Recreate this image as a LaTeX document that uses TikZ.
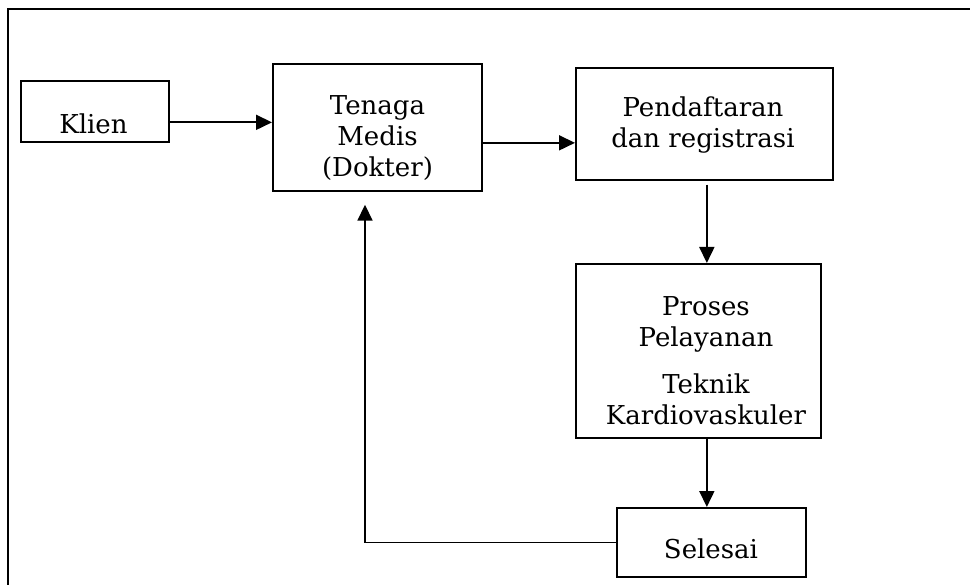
\documentclass[tikz,border=0pt]{standalone}
\usepackage{fontspec}
\setmainfont{DejaVu Serif}
\usepackage{tikz}
\usetikzlibrary{arrows.meta}
\tikzset{
    box_node/.style = {rectangle, draw=black, line width=1.7pt, anchor=north west, inner sep=0pt},
    text_node/.style = {align=center, inner sep=0pt, font=\fontsize{26}{31}\selectfont},
    arrow_line/.style = {line width=1.7pt, -{Triangle[length=16pt,width=15pt]}},
    frame_line/.style = {line width=2.8pt}
}

\begin{document}
\begin{tikzpicture}
            [x=1pt, y=-1pt]
            \useasboundingbox (0,0) rectangle (970,585);

            \draw [frame_line] (8,585) -- (8,9) -- (970,9);

            % boxes
            \node [box_node, minimum width=148pt, minimum height=61pt] (klien) at (20,80) {};
            \node [box_node, minimum width=209pt, minimum height=127pt] (tenaga) at (272,63) {};
            \node [box_node, minimum width=257pt, minimum height=112pt] (pend) at (575,67) {};
            \node [box_node, minimum width=245pt, minimum height=174pt] (proses) at (575,263) {};
            \node [box_node, minimum width=189pt, minimum height=69pt] (selesai) at (616,507) {};

            % texts
            \node [text_node] (klien_txt) at (93.5,124) {Klien};
            \node [text_node] (tenaga_txt) at (377.5,138) {Tenaga\\Medis\\(Dokter)};
            \node [text_node] (pend_txt) at (703,125) {Pendaftaran\\dan registrasi};
            \node [text_node] (proses_txt) at (706,361) {Proses\\Pelayanan\\[16pt]Teknik\\Kardiovaskuler};
            \node [text_node] (selesai_txt) at (711,549) {Selesai};

            % arrows
            \draw [arrow_line] ([yshift=-11pt]klien.east) -- ([yshift=-11pt]klien.east -| tenaga.west);
            \draw [arrow_line] ([yshift=-15.5pt]tenaga.east) -- ([yshift=-15.5pt]tenaga.east -| pend.west);
            \draw [arrow_line] ([xshift=2.5pt,yshift=-4pt]pend.south) -- ([xshift=8.5pt]proses.north);
            \draw [arrow_line] ([xshift=8.5pt]proses.south) -- ([xshift=-4.5pt]selesai.north);
            \coordinate (turn) at (365,0);
            \draw [arrow_line] (selesai.west) -- (selesai.west -| turn) -- ([yshift=-13pt]tenaga.south -| turn);
\end{tikzpicture}
\end{document}
